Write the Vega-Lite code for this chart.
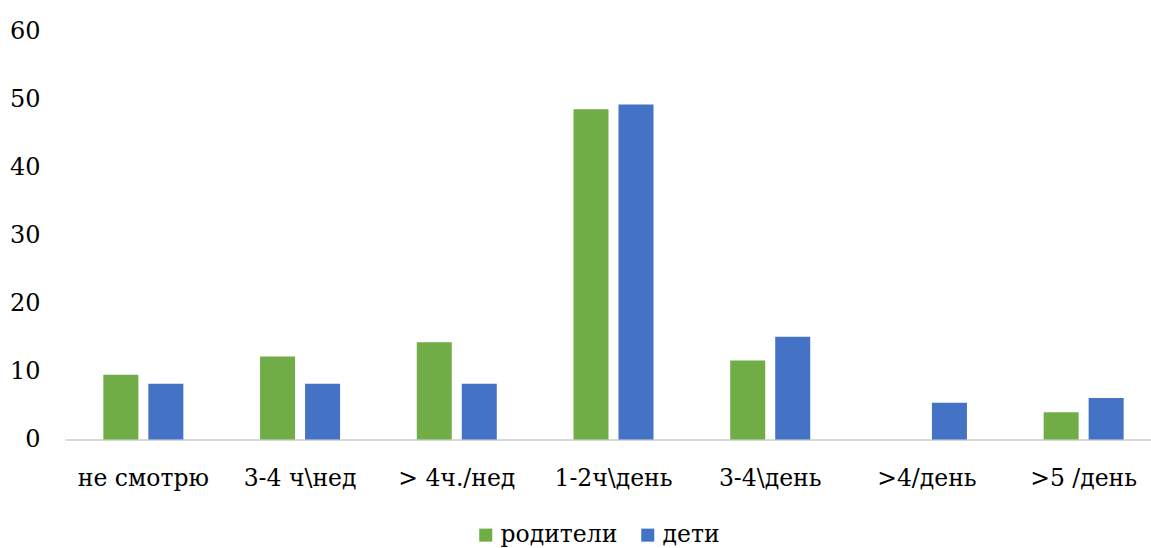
{
  "$schema": "https://vega.github.io/schema/vega-lite/v6.json",
  "autosize": "none",
  "width": 1086,
  "height": 408.5,
  "padding": {"left": 65, "top": 31, "right": 0, "bottom": 108.5},
  "background": "white",
  "data": {
    "values": [
      {"cat": "не смотрю", "group": "родители", "value": 9.5},
      {"cat": "не смотрю", "group": "дети", "value": 8.2},
      {"cat": "3-4 ч\\нед", "group": "родители", "value": 12.2},
      {"cat": "3-4 ч\\нед", "group": "дети", "value": 8.2},
      {"cat": "> 4ч./нед", "group": "родители", "value": 14.3},
      {"cat": "> 4ч./нед", "group": "дети", "value": 8.2},
      {"cat": "1-2ч\\день", "group": "родители", "value": 48.5},
      {"cat": "1-2ч\\день", "group": "дети", "value": 49.2},
      {"cat": "3-4\\день", "group": "родители", "value": 11.6},
      {"cat": "3-4\\день", "group": "дети", "value": 15.1},
      {"cat": ">4/день", "group": "родители", "value": 0},
      {"cat": ">4/день", "group": "дети", "value": 5.4},
      {"cat": ">5 /день", "group": "родители", "value": 4.0},
      {"cat": ">5 /день", "group": "дети", "value": 6.1}
    ]
  },
  "mark": {"type": "bar"},
  "encoding": {
    "x": {
      "field": "cat",
      "type": "nominal",
      "sort": null,
      "scale": {"paddingInner": 0.4895, "paddingOuter": 0.2447, "range": [0, 1097]},
      "axis": {
        "title": null,
        "labelAngle": 0,
        "labelFont": "DejaVu Serif",
        "labelFontSize": 23.5,
        "labelColor": "#000000",
        "labelBaseline": "alphabetic",
        "labelPadding": 46,
        "ticks": false,
        "domainColor": "#d9d9d9",
        "domainWidth": 2
      }
    },
    "xOffset": {
      "field": "group",
      "type": "nominal",
      "sort": ["родители", "дети"],
      "scale": {"paddingInner": 0.222, "paddingOuter": 0}
    },
    "y": {
      "field": "value",
      "type": "quantitative",
      "scale": {"domain": [0, 60], "nice": false},
      "axis": {
        "title": null,
        "values": [0, 10, 20, 30, 40, 50, 60],
        "grid": false,
        "domain": false,
        "ticks": false,
        "labelFont": "DejaVu Serif",
        "labelFontSize": 24,
        "labelColor": "#000000",
        "labelPadding": 25
      }
    },
    "color": {
      "field": "group",
      "type": "nominal",
      "sort": ["родители", "дети"],
      "scale": {"domain": ["родители", "дети"], "range": ["#70AD47", "#4472C4"]},
      "legend": {
        "title": null,
        "orient": "none",
        "direction": "horizontal",
        "legendX": 409,
        "legendY": 492,
        "symbolType": "square",
        "symbolSize": 170,
        "symbolStrokeWidth": 0,
        "labelFont": "DejaVu Serif",
        "labelFontSize": 23.5,
        "labelColor": "#000000",
        "labelOffset": 3,
        "columnPadding": 18
      }
    }
  },
  "config": {
    "view": {"stroke": null}
  }
}
